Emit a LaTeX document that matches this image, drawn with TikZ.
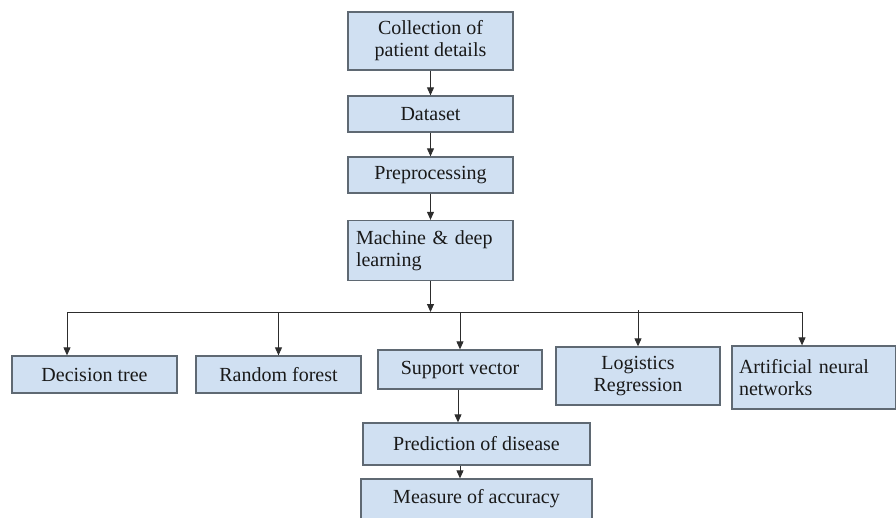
\documentclass[tikz,border=0pt]{standalone}
\usepackage{fontspec}
\setmainfont{Liberation Serif}
\usetikzlibrary{arrows.meta}
\definecolor{boxfill}{RGB}{208,224,242}
\definecolor{boxline}{RGB}{95,105,115}
\definecolor{conn}{RGB}{45,45,45}
\tikzset{
  box/.style={draw=boxline, fill=boxfill, line width=1.3pt, rectangle, inner sep=2pt,
    font=\fontsize{20}{22}\selectfont, text=black!90, align=center},
  arr/.style={draw=conn, line width=0.9pt, -{Triangle[length=8pt,width=7pt]}},
  plain/.style={draw=conn, line width=0.9pt}
}
\begin{document}
\begin{tikzpicture}[x=1pt,y=1pt]
\useasboundingbox (0,0) rectangle (896,-517);
% top column
\node[box, minimum width=165pt, minimum height=58pt] (coll) at (430.5,-41) {Collection of\\patient details};
\node[box, minimum width=165pt, minimum height=36pt] (data) at (430.5,-114) {Dataset};
\node[box, minimum width=165pt, minimum height=36pt] (prep) at (430.5,-175) {Preprocessing};
\node[box, minimum width=165pt, minimum height=60pt, text width=149pt, align=left] (mach) at (430.5,-250.5) {Machine \& deep\\learning};
% branches
\coordinate (hL) at (67,-312);
\coordinate (hR) at (802,-312);
\node[box, minimum width=165pt, minimum height=37pt] (dt) at (94.5,-374.5) {Decision tree};
\node[box, minimum width=165pt, minimum height=37pt] (rf) at (278.5,-374.5) {Random forest};
\node[box, minimum width=164pt, minimum height=39pt] (sv) at (460,-369.5) {Support vector};
\node[box, minimum width=164pt, minimum height=58pt] (lr) at (638,-376) {Logistics\\Regression};
\node[box, minimum width=164pt, minimum height=63pt, text width=150pt, align=left] (ann) at (814,-377.5) {Artificial neural\\networks};
\node[box, minimum width=227pt, minimum height=42pt] (pred) at (476.5,-444) {Prediction of disease};
\node[box, minimum width=231pt, minimum height=40pt] (meas) at (476.5,-499) {Measure of accuracy};
% connectors
\draw[arr] (coll) -- (data);
\draw[arr] (data) -- (prep);
\draw[arr] (prep) -- (mach);
\draw[arr] (mach.south) -- (mach.south |- hL);
\draw[plain] (hL) -- (hR);
\draw[arr] (hL) -- (hL |- dt.north);
\draw[arr] (rf.north |- hL) -- (rf.north);
\draw[arr] (sv.north |- hL) -- (sv.north);
\draw[arr] ([yshift=2pt]lr.north |- hL) -- (lr.north);
\draw[arr] (hR) -- (hR |- ann.north);
\draw[arr] ([xshift=-2pt]sv.south) -- ([xshift=-2pt]sv.south |- pred.north);
\draw[arr] (sv.south |- pred.south) -- (sv.south |- meas.north);
\end{tikzpicture}
\end{document}
